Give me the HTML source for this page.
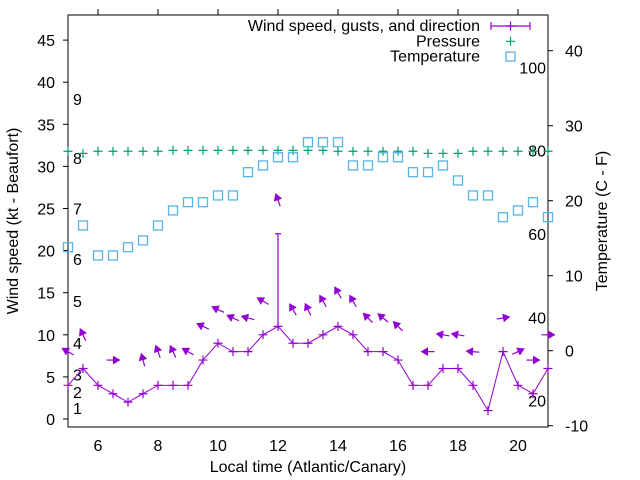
<!DOCTYPE html>
<html><head><meta charset="utf-8"><style>
body{margin:0;background:#fff}
svg{display:block;font-family:"Liberation Sans",Arial,sans-serif}
</style></head><body>
<svg id="chart" width="640" height="480" viewBox="0 0 640 480">
<g id="grid"></g>
<g id="marks"></g>
</svg>
<script>
const times=[5,5.5,6,6.5,7,7.5,8,8.5,9,9.5,10,10.5,11,11.5,12,12.5,13,13.5,14,14.5,15,15.5,16,16.5,17,17.5,18,18.5,19,19.5,20,20.5,21];
const windSpeed=[4,6,4,3,2,3,4,4,4,7,9,8,8,10,11,9,9,10,11,10,8,8,7,4,4,6,6,4,1,8,4,3,6];
const gustTimes=[12];
const gustValues=[22];
const gustBase=[11];
const windHeading=[300,335,null,90,null,345,340,335,300,295,295,295,285,300,340,330,335,330,330,330,315,310,315,null,270,280,280,275,null,80,65,90,90];
const arrowBase=[4,6,4,3,2,3,4,4,4,7,9,8,8,10,22,9,9,10,11,10,8,8,7,4,4,6,6,4,1,8,4,3,6];
const pressure=[31.8,31.55,31.8,31.8,31.8,31.8,31.8,31.9,31.9,31.9,31.9,31.9,31.9,31.9,31.9,31.9,31.9,31.9,31.8,31.8,31.8,31.8,31.8,31.8,31.55,31.55,31.55,31.8,31.8,31.8,31.8,31.8,31.8];
const temperature=[13.8,16.7,12.7,12.7,13.8,14.7,16.7,18.7,19.8,19.8,20.7,20.7,23.8,24.7,25.8,25.8,27.8,27.8,27.8,24.7,24.7,25.8,25.8,23.8,23.8,24.7,22.7,20.7,20.7,17.8,18.7,19.8,17.8];
const xTicks=[6,8,10,12,14,16,18,20];
const yTicks=[0,5,10,15,20,25,30,35,40,45];
const y2Ticks=[-10,0,10,20,30,40];
const beaufortLabels=["1","2","3","4","5","6","7","8","9"];
const beaufortKt=[1.3,3.2,5.3,9,14,19,25,31,38];
const fahrenheitTicks=[20,40,60,80,100];

const L=68,R=548,T=15,B=427;
const X=t=>L+(t-5)*(R-L)/16;
const Y=v=>419+(0-v)*8.42;
const Y2=c=>425.7-(c+10)*7.5;
const YF=f=>Y2((f-32)*5/9);
const NS="http://www.w3.org/2000/svg";
const g=document.getElementById('grid'),m=document.getElementById('marks');
function el(p,tag,a,txt){const e=document.createElementNS(NS,tag);for(const k in a)e.setAttribute(k,a[k]);if(txt!=null)e.textContent=txt;p.appendChild(e);return e;}

let e=el(g,'rect',{x:L,y:T,width:R-L,height:B-T,fill:'none',stroke:'#000','stroke-width':1});


xTicks.forEach(t=>{
 let k=el(g,'line',{x1:X(t),x2:X(t),y1:T,y2:T-6,stroke:'#000'});
 
 
 let l=el(g,'text',{x:X(t),y:451,'font-size':16,'text-anchor':'middle'},t);
 
 
});
yTicks.forEach(v=>{
 let k=el(g,'line',{x1:L-5,x2:L,y1:Y(v),y2:Y(v),stroke:'#000'});
 
 
 let l=el(g,'text',{x:55,y:Y(v)+6,'font-size':16,'text-anchor':'end'},v);
 
 
});
y2Ticks.forEach(v=>{
 let k=el(g,'line',{x1:R,x2:R+5,y1:Y2(v),y2:Y2(v),stroke:'#000'});
 
 
 let l=el(g,'text',{x:565,y:Y2(v)+6,'font-size':16},v);
 
 
});
beaufortLabels.forEach((s,i)=>{
 let l=el(g,'text',{x:73,y:Y(beaufortKt[i])+6,'font-size':16},s);
 
 
});
fahrenheitTicks.forEach(f=>{
 let l=el(g,'text',{x:546,y:YF(f)+6,'font-size':16,'text-anchor':'end'},f);
 
 
});
let t1=el(g,'text',{x:0,y:0,'font-size':16,'text-anchor':'middle',transform:'translate(18,221) rotate(-90)'},'Wind speed (kt - Beaufort)');


let t2=el(g,'text',{x:0,y:0,'font-size':16,'text-anchor':'middle',transform:'translate(607,221) rotate(-90)'},'Temperature (C - F)');


let t3=el(g,'text',{x:308,y:472,'font-size':16,'text-anchor':'middle'},'Local time (Atlantic/Canary)');



const VIO='#9400d3',GRN='#009e73',BLU='#56b4e9';
function plus(p,x,y,c,s){return el(p,'path',{d:`M${x-s} ${y}H${x+s}M${x} ${y-s}V${y+s}`,stroke:c,'stroke-width':1.2,fill:'none'});}
function sq(p,x,y,c){return el(p,'rect',{x:x-4.5,y:y-4.5,width:9,height:9,stroke:c,'stroke-width':1.3,fill:'none'});}

// pressure
pressure.forEach((v,i)=>{let p=plus(m,X(times[i]),Y(v),GRN,4.5);
 
 });
// temperature
temperature.forEach((v,i)=>{let p=sq(m,X(times[i]),Y2(v),BLU);
 
 });
// wind line
let line=el(m,'polyline',{points:times.map((t,i)=>X(t)+','+Y(windSpeed[i])).join(' '),fill:'none',stroke:VIO,'stroke-width':1});


windSpeed.forEach((v,i)=>{let p=plus(m,X(times[i]),Y(v),VIO,4.5);
 
 });
gustTimes.forEach((t,i)=>{
 let b=el(m,'path',{d:`M${X(t)} ${Y(gustBase[i])}V${Y(gustValues[i])}M${X(t)-3} ${Y(gustValues[i])}H${X(t)+3}`,stroke:VIO,'stroke-width':1.2,fill:'none'});
 
 
});
// direction arrows
windHeading.forEach((h,i)=>{
 if(h==null)return;
 const cx=X(times[i]),cy=Y(arrowBase[i]+4);
 const a=h*Math.PI/180,dx=Math.sin(a),dy=-Math.cos(a),len=13;
 const hx=cx+dx*len/2,hy=cy+dy*len/2,tx=cx-dx*len/2,ty=cy-dy*len/2;
 const px=-dy,py=dx,hl=6,hw=3.5;
 const bx=hx-dx*hl,by=hy-dy*hl;
 const gr=el(m,'g',{});
 
 
 el(gr,'line',{x1:tx,y1:ty,x2:bx,y2:by,stroke:VIO,'stroke-width':1.2});
 el(gr,'polygon',{points:`${hx},${hy} ${bx+px*hw},${by+py*hw} ${bx-px*hw},${by-py*hw}`,fill:VIO,stroke:VIO,'stroke-width':1});
});
// legend
const lg=el(g,'g',{});


const legendNames=['Wind speed, gusts, and direction','Pressure','Temperature'];
legendNames.forEach((n,i)=>{
 const y=26+i*15.3;
 let tx=el(lg,'text',{x:480,y:y+5,'font-size':16,'text-anchor':'end'},n);
 
 
});
el(lg,'path',{d:'M491 26H530M491 22V30M530 22V30',stroke:VIO,'stroke-width':1.2,fill:'none'});
plus(lg,510.5,26,VIO,4.5);
plus(lg,510.5,41.3,GRN,4.5);
sq(lg,510.5,56.6,BLU);
</script>
</body></html>
